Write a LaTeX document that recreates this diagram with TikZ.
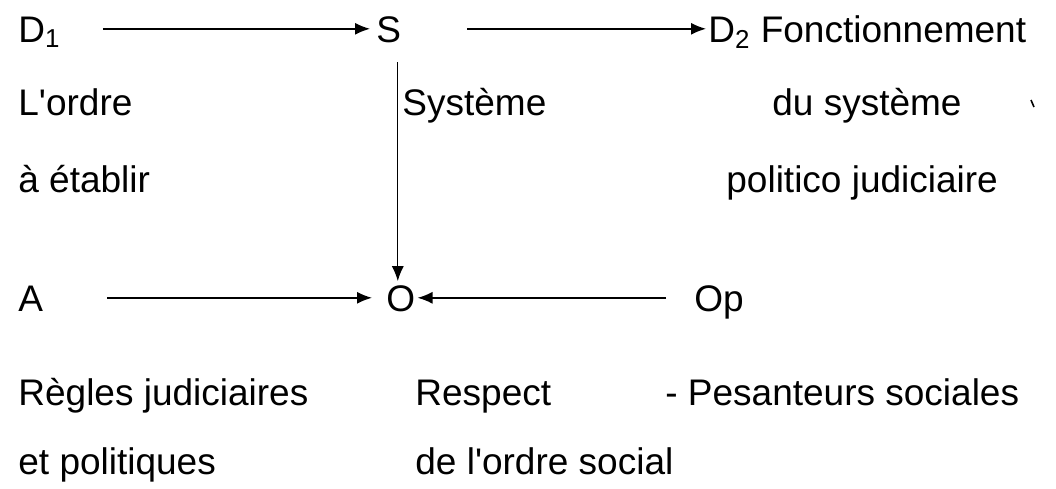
\documentclass[tikz,border=0pt]{standalone}
\usepackage{fontspec}
\setmainfont{Liberation Sans}
\usetikzlibrary{arrows.meta}
\tikzset{
  lbl/.style={anchor=base west, inner sep=0pt, font=\fontsize{18.5pt}{22pt}\selectfont},
  key/.style={lbl, text height=13.2pt, text depth=0pt},
  arr/.style={line width=0.7pt, -{Latex[length=7.5pt,width=6pt]}},
}
\begin{document}
\begin{tikzpicture}[x=0.5pt,y=-0.5pt]
\useasboundingbox (0,0) rectangle (1056,488);
% key row nodes
\node[key] (D1) at (18,42) {D\textsubscript{1}};
\node[key] (S) at (376,42) {S};
\node[key] (D2) at (708,42) {D\textsubscript{2} Fonctionnement};
\node[key] (A) at (18,311) {A};
\node[key] (O) at (386,311) {O};
\node[key] (Op) at (694,311) {Op};
% labels
\node[lbl] (l1) at (18,115) {L\textquotesingle ordre};
\node[lbl] (l2) at (18,192) {à établir};
\node[lbl] (sys) at (402,115) {Système};
\node[lbl] (ds) at (772,115) {du système};
\node[lbl] (pj) at (726,192) {politico judiciaire};
\node[lbl] (rj) at (18,405) {Règles judiciaires};
\node[lbl] (ep) at (18,474) {et politiques};
\node[lbl] (rs) at (415,405) {Respect};
\node[lbl] (dlo) at (415,474) {de l\textquotesingle ordre social};
\node[lbl] (ps) at (665,405) {- Pesanteurs sociales};
% connectors
\draw[arr, shorten <=21pt, shorten >=3pt] (D1.east) -- (S.west);
\draw[arr, shorten <=33pt, shorten >=1pt] (S.east) -- (D2.west);
\path ([xshift=-1.5pt,yshift=1.5pt]O.north) coordinate (Otop);
\draw[arr, shorten <=10pt] (S.south -| Otop) -- (Otop);
\draw[arr, shorten <=32pt, shorten >=7pt] (A.east) -- (O.west);
\draw[arr, shorten <=14pt, shorten >=1pt] (Op.west) -- (O.east);
% stray mark
\coordinate (m1) at (1031,100);
\coordinate (m2) at (1034,107);
\draw[line width=0.8pt] (m1) -- (m2);
\end{tikzpicture}
\end{document}
